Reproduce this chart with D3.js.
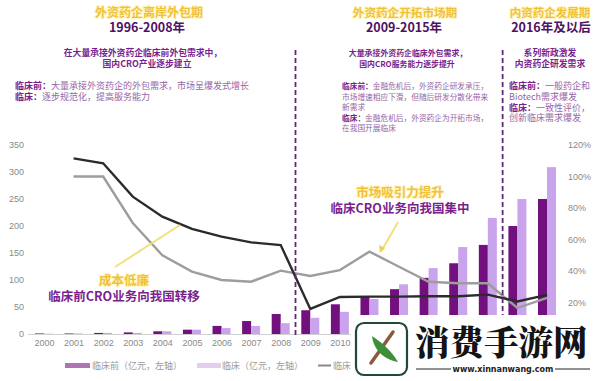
<!DOCTYPE html>
<html><head><meta charset="utf-8">
<script src="https://cdn.jsdelivr.net/npm/d3@7"></script>
<style>
html,body{margin:0;padding:0;background:#fff;}
svg{display:block;font-family:"Noto Sans CJK SC","Noto Sans",sans-serif;}
</style></head>
<body>
<svg id="c" width="600" height="381"></svg>
<script>
// ---- data ----
const years = ["2000","2001","2002","2003","2004","2005","2006","2007","2008","2009","2010","2011","2012","2013","2014","2015","2016","2017"];
const preclinical = [1,1,2,3,5,8,15,24,37,44,55,69,83,104,131,165,200,250];   // 亿元, left axis
const clinical    = [0.5,1,2,2,5,8,11,15,20,30,41,65,92,122,161,215,250,309]; // 亿元, left axis
const lineA = [null,111.5,108.4,87.2,74.5,66.7,61.8,58.2,56.5,15.9,23.5,23.7,23.7,24,24,25,20.7,24.8]; // %, right axis (black)
const lineB = [null,100,100,70.5,50,39.6,34.3,33.2,40.2,36.8,40.6,52.3,42.7,33.2,32.2,32.2,16.5,22.9]; // %, right axis (gray)
const leftTicks = [0,50,100,150,200,250,300,350];
const rightTicks = [0,20,40,60,80,100,120];
const legendLabels = ["临床前（亿元，左轴）","临床（亿元，左轴）","临床前成本（右轴）"];

const svg = d3.select("#c");
const x = d3.scalePoint().domain(years).range([44,547]);
const yL = d3.scaleLinear().domain([0,350]).range([334,145]);
const yR = d3.scaleLinear().domain([0,120]).range([334,145]);
const bw = 9;
const DARK="#72107e", LIGHT="#c9a3ec", PURPLE="#7a1f8e", BODY="#9566a6", GOLD="#efc23a";

// baseline
svg.append("line").attr("x1",28).attr("x2",562).attr("y1",yL(0)+0.5).attr("y2",yL(0)+0.5)
  .attr("stroke","#d0d0d0").attr("stroke-width",1);

// axes
const axL = svg.append("g").attr("transform","translate(24,0)")
  .call(d3.axisLeft(yL).tickValues(leftTicks).tickSize(0).tickPadding(0));
const axR = svg.append("g").attr("transform","translate(567,0)")
  .call(d3.axisRight(yR).tickValues(rightTicks).tickSize(0).tickPadding(1).tickFormat(d=>d+"%"));
const axX = svg.append("g").attr("transform","translate(0,340)")
  .call(d3.axisBottom(x).tickSize(0).tickPadding(0));
[axL,axR,axX].forEach(a=>{a.select(".domain").remove();
  a.selectAll("text").attr("fill","#8a8a8a").style("font-size","9px").style("font-family","'Liberation Sans',sans-serif");});

// bars
svg.append("g").selectAll("rect").data(years).join("rect")
  .attr("x",d=>x(d)-bw).attr("width",bw)
  .attr("y",(d,i)=>yL(preclinical[i])).attr("height",(d,i)=>yL(0)-yL(preclinical[i]))
  .attr("fill",DARK);
svg.append("g").selectAll("rect").data(years).join("rect")
  .attr("x",d=>x(d)).attr("width",bw)
  .attr("y",(d,i)=>yL(clinical[i])).attr("height",(d,i)=>yL(0)-yL(clinical[i]))
  .attr("fill",LIGHT);

// lines
const mk = arr => d3.line().defined(d=>d[1]!=null).x(d=>x(d[0])).y(d=>yR(d[1]))(years.map((y,i)=>[y,arr[i]]));
svg.append("path").attr("d",mk(lineB)).attr("fill","none").attr("stroke","#9d9d9d").attr("stroke-width",2.4);
svg.append("path").attr("d",mk(lineA)).attr("fill","none").attr("stroke","#2b2b2b").attr("stroke-width",2.4);

// dashed dividers
[[x("2008"),x("2009")],[x("2015"),x("2016")]].forEach(p=>{
  const xm=(p[0]+p[1])/2;
  svg.append("line").attr("x1",xm).attr("x2",xm).attr("y1",50).attr("y2",337)
    .attr("stroke","#5e2a6e").attr("stroke-width",1.8).attr("stroke-dasharray","5,3");
});

// headers
function txt(xp,yp,s,opt){
  const t=svg.append("text").attr("x",xp).attr("y",yp).text(s)
    .attr("text-anchor",opt.anchor||"middle").attr("fill",opt.fill||"#000")
    .style("font-size",opt.size+"px").style("font-weight",opt.weight||400);
  if(opt.glow) t.attr("stroke","#fff6c8").attr("stroke-width",2).attr("paint-order","stroke");
  return t;
}
txt(149,17,"外资药企离岸外包期",{size:12,weight:700,fill:GOLD,glow:1});
txt(147,31.5,"1996-2008年",{size:12.5,weight:700,fill:"#4e1262"});
txt(405,17,"外资药企开拓市场期",{size:11.6,weight:700,fill:GOLD,glow:1});
txt(404,31.5,"2009-2015年",{size:12.5,weight:700,fill:"#4e1262"});
txt(550,17,"内资药企发展期",{size:11.5,weight:700,fill:GOLD,glow:1});
txt(551,31.5,"2016年及以后",{size:12.5,weight:700,fill:"#4e1262"});

txt(143,56,"在大量承接外资药企临床前外包需求中，",{size:8.8,weight:700,fill:PURPLE});
txt(147,67,"国内CRO产业逐步建立",{size:8.8,weight:700,fill:PURPLE});
txt(408,56,"大量承接外资药企临床外包需求，",{size:7.9,weight:700,fill:PURPLE});
txt(407,67,"国内CRO服务能力逐步提升",{size:7.9,weight:700,fill:PURPLE});
txt(550,56,"系列新政激发",{size:8.8,weight:700,fill:PURPLE});
txt(550,67,"内资药企研发需求",{size:8.8,weight:700,fill:PURPLE});

function body(xp,yp,head,rest,sz){
  const t=svg.append("text").attr("x",xp).attr("y",yp).style("font-size",(sz||9)+"px");
  if(head) t.append("tspan").text(head).attr("fill",PURPLE).style("font-weight",700);
  t.append("tspan").text(rest).attr("fill",BODY);
}
body(15,89,"临床前：","大量承接外资药企的外包需求，市场呈爆发式增长");
body(15,100,"临床：","逐步规范化，提高服务能力");
body(342,88.5,"临床前：","金融危机后，外资药企研发承压，",7.7);
body(342,99.5,null,"市场增速相应下滑，但随后研发分散化带来",7.7);
body(342,110,null,"新需求",7.7);
body(342,120.5,"临床：","金融危机后，外资药企为开拓市场，",7.7);
body(342,131,null,"在我国开展临床",7.7);
body(509,89,"临床前：","一般药企和");
body(509,100,null,"Biotech需求爆发");
body(509,110.5,"临床：","一致性评价，");
body(509,121,null,"创新临床需求爆发");

// annotations
svg.append("line").attr("x1",115).attr("y1",267).attr("x2",180).attr("y2",225)
  .attr("stroke","#f2e07a").attr("stroke-width",2);
txt(124,285,"成本低廉",{size:12.5,weight:700,fill:GOLD,glow:1});
txt(124,301,"临床前CRO业务向我国转移",{size:12.5,weight:700,fill:PURPLE});
txt(400,196.5,"市场吸引力提升",{size:12.5,weight:700,fill:GOLD,glow:1});
txt(400,212.5,"临床CRO业务向我国集中",{size:12.5,weight:700,fill:PURPLE});
svg.append("line").attr("x1",398).attr("y1",222).attr("x2",382).attr("y2",250)
  .attr("stroke","#f2e07a").attr("stroke-width",2);
svg.append("path").attr("d","M380,253 L379,245 L385,248 Z").attr("fill","#e9d25a");

// legend
const lg = svg.append("g").style("font-size","9px");
lg.append("rect").attr("x",65).attr("y",363).attr("width",25).attr("height",5).attr("fill","#ad76b3");
lg.append("text").attr("x",92).attr("y",368.5).attr("fill","#9a9a9a").text(legendLabels[0]);
lg.append("rect").attr("x",197).attr("y",363).attr("width",24).attr("height",5).attr("fill","#e2cdf1");
lg.append("text").attr("x",222).attr("y",368.5).attr("fill","#9a9a9a").text(legendLabels[1]);
lg.append("line").attr("x1",318).attr("x2",331).attr("y1",365.5).attr("y2",365.5).attr("stroke","#888").attr("stroke-width",2);
lg.append("text").attr("x",333).attr("y",368.5).attr("fill","#9a9a9a").text(legendLabels[2]);

// watermark overlay
const wm = svg.append("g");
wm.append("rect").attr("x",351).attr("y",315).attr("width",249).attr("height",66).attr("fill","#fff");
wm.append("rect").attr("x",356).attr("y",323).attr("width",51).attr("height",52).attr("rx",8)
  .attr("fill","#fff").attr("stroke","#1f4a3a").attr("stroke-width",2.2);
wm.append("line").attr("x1",371).attr("y1",363).attr("x2",393).attr("y2",332)
  .attr("stroke","#8a5a3c").attr("stroke-width",3.5).attr("stroke-linecap","round");
wm.append("path").attr("d","M372,336 C374,352 386,360 398,362 C392,352 384,344 372,336 Z").attr("fill","#3f8f3a");
wm.append("text").attr("x",415).attr("y",355).text("消费手游网").attr("fill","#141414")
  .style("font-size","34.5px").style("font-weight",900).style("font-family","'Noto Serif CJK SC','Noto Sans CJK SC',serif");
wm.append("line").attr("x1",416).attr("x2",451).attr("y1",369).attr("y2",369).attr("stroke","#222").attr("stroke-width",1);
wm.append("line").attr("x1",555).attr("x2",590).attr("y1",369).attr("y2",369).attr("stroke","#222").attr("stroke-width",1);
wm.append("text").attr("x",503).attr("y",372).attr("text-anchor","middle").text("www.xinnanwang.com")
  .attr("fill","#222").style("font-size","8px").style("font-weight",700).style("font-family","'DejaVu Sans',sans-serif");
</script>
</body></html>
